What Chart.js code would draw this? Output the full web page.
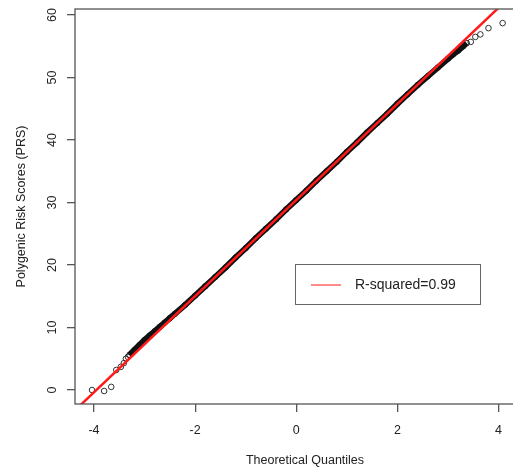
<!DOCTYPE html>
<html><head><meta charset="utf-8">
<script src="https://cdn.jsdelivr.net/npm/chart.js@4/dist/chart.umd.min.js"></script>
<style>html,body{margin:0;padding:0;overflow:hidden;background:#fff}canvas{display:block}</style>
</head><body>
<canvas id="c" width="540" height="470"></canvas>
<script>
// Dense body of the Q-Q scatter (theoretical quantile, PRS)
const bandX = [-3.30,-3.20,-3.10,-3.00,-2.90,-2.80,-2.70,-2.60,-2.50,-2.40,-2.20,-2.00,-1.80,-1.60,-1.40,-1.20,-1.00,-0.80,-0.60,-0.40,-0.20,0.00,0.20,0.40,0.60,0.80,1.00,1.20,1.40,1.60,1.80,2.00,2.20,2.40,2.60,2.80,3.00,3.10,3.20,3.30,3.37];
const bandY = [5.6,6.4,7.2,8.0,8.7,9.4,10.1,10.8,11.5,12.2,13.6,15.1,16.6,18.1,19.6,21.2,22.7,24.3,25.8,27.3,28.9,30.4,31.9,33.5,35.0,36.5,38.1,39.6,41.2,42.7,44.2,45.8,47.3,48.8,50.2,51.6,53.0,53.7,54.3,55.0,55.5];
// Sparse tails
const lowTailX = [-4.04,-3.80,-3.66,-3.56,-3.47,-3.41,-3.37,-3.33];
const lowTailY = [0.0,-0.16,0.5,3.2,3.7,4.3,5.0,5.3];
const highTailX = [3.45,3.54,3.64,3.80,4.08];
const highTailY = [55.7,56.5,56.9,57.9,58.7];
// Reference (qqline) end points
const lineX = [-4.5, 4.9];
const lineY = [-4.205, 68.08];
const xTicks = [-4,-2,0,2,4];
const yTicks = [0,10,20,30,40,50,60];
const legendLabel = 'R-squared=0.99';
const xTitle = 'Theoretical Quantiles';
const yTitle = 'Polygenic Risk Scores (PRS)';

const pts = (xs, ys) => xs.map((x, i) => ({x, y: ys[i]}));
const FONT = '"Liberation Sans", Arial, sans-serif';
const AX = '#555';

const framePlugin = {
  id: 'frame',
  afterDatasetsDraw(chart) {
    const {ctx, chartArea: a} = chart;
    ctx.save();
    ctx.strokeStyle = AX; ctx.lineWidth = 1.3;
    ctx.strokeRect(a.left, a.top, a.right - a.left, a.bottom - a.top);
    // legend box
    const bx = 295, by = 264, bw = 185, bh = 40;
    ctx.fillStyle = '#fff';
    ctx.fillRect(bx, by, bw, bh);
    ctx.strokeStyle = '#666'; ctx.lineWidth = 1;
    ctx.strokeRect(bx + 0.5, by + 0.5, bw, bh);
    ctx.strokeStyle = '#ff4040'; ctx.lineWidth = 1.2;
    ctx.beginPath(); ctx.moveTo(311, 285); ctx.lineTo(341, 285); ctx.stroke();
    ctx.fillStyle = '#222'; ctx.font = '14px ' + FONT;
    ctx.textBaseline = 'middle'; ctx.textAlign = 'left';
    ctx.fillText(chart.data.datasets[0].label, 355, 285);
    ctx.restore();
  }
};

new Chart(document.getElementById('c'), {
  type: 'scatter',
  data: {
    datasets: [
      { label: legendLabel, data: pts(lineX, lineY), showLine: true, borderColor: '#ff1a1a', borderWidth: 2.5, pointRadius: 0, order: 0, clip: 0 },
      { label: 'band', data: pts(bandX, bandY), showLine: true, borderColor: '#111', borderWidth: 6, pointRadius: 2.7, pointBorderColor: '#111', pointBackgroundColor: 'rgba(0,0,0,0)', pointBorderWidth: 1, order: 1 },
      { label: 'low', data: pts(lowTailX, lowTailY), pointRadius: 2.8, pointBorderColor: '#333', pointBackgroundColor: 'rgba(0,0,0,0)', pointBorderWidth: 1, order: 2 },
      { label: 'high', data: pts(highTailX, highTailY), pointRadius: 2.8, pointBorderColor: '#333', pointBackgroundColor: 'rgba(0,0,0,0)', pointBorderWidth: 1, order: 2 }
    ]
  },
  options: {
    responsive: false, animation: false,
    layout: { padding: { top: 9, left: 0, right: 0, bottom: 0 } },
    plugins: { legend: { display: false }, tooltip: { enabled: false } },
    scales: {
      x: {
        type: 'linear', min: -4.376, max: 4.72,
        afterBuildTicks: s => { s.ticks = xTicks.map(v => ({value: v})); },
        afterFit: s => { s.height = 66; s.paddingLeft = 0; s.paddingRight = 0; },
        grid: { drawOnChartArea: false, drawTicks: true, tickLength: 8, color: AX, lineWidth: 1.3 },
        border: { display: false },
        ticks: { color: '#222', font: { family: FONT, size: 12.5 }, padding: 11, maxRotation: 0 },
        title: { display: true, text: xTitle, color: '#222', font: { family: FONT, size: 12.5 }, padding: { top: 0, bottom: 1.5 } }
      },
      y: {
        type: 'linear', min: -2.24, max: 60.96,
        afterBuildTicks: s => { s.ticks = yTicks.map(v => ({value: v})); },
        afterFit: s => { s.width = 75; s.paddingTop = 0; s.paddingBottom = 0; },
        grid: { drawOnChartArea: false, drawTicks: true, tickLength: 8, color: AX, lineWidth: 1.3 },
        border: { display: false },
        ticks: { color: '#222', font: { family: FONT, size: 12.5 }, padding: 8, minRotation: 90, maxRotation: 90, crossAlign: 'center' },
        title: { display: true, text: yTitle, color: '#222', font: { family: FONT, size: 12.5 }, padding: { top: 14.5, bottom: 0 } }
      }
    }
  },
  plugins: [framePlugin]
});
</script>
</body></html>
